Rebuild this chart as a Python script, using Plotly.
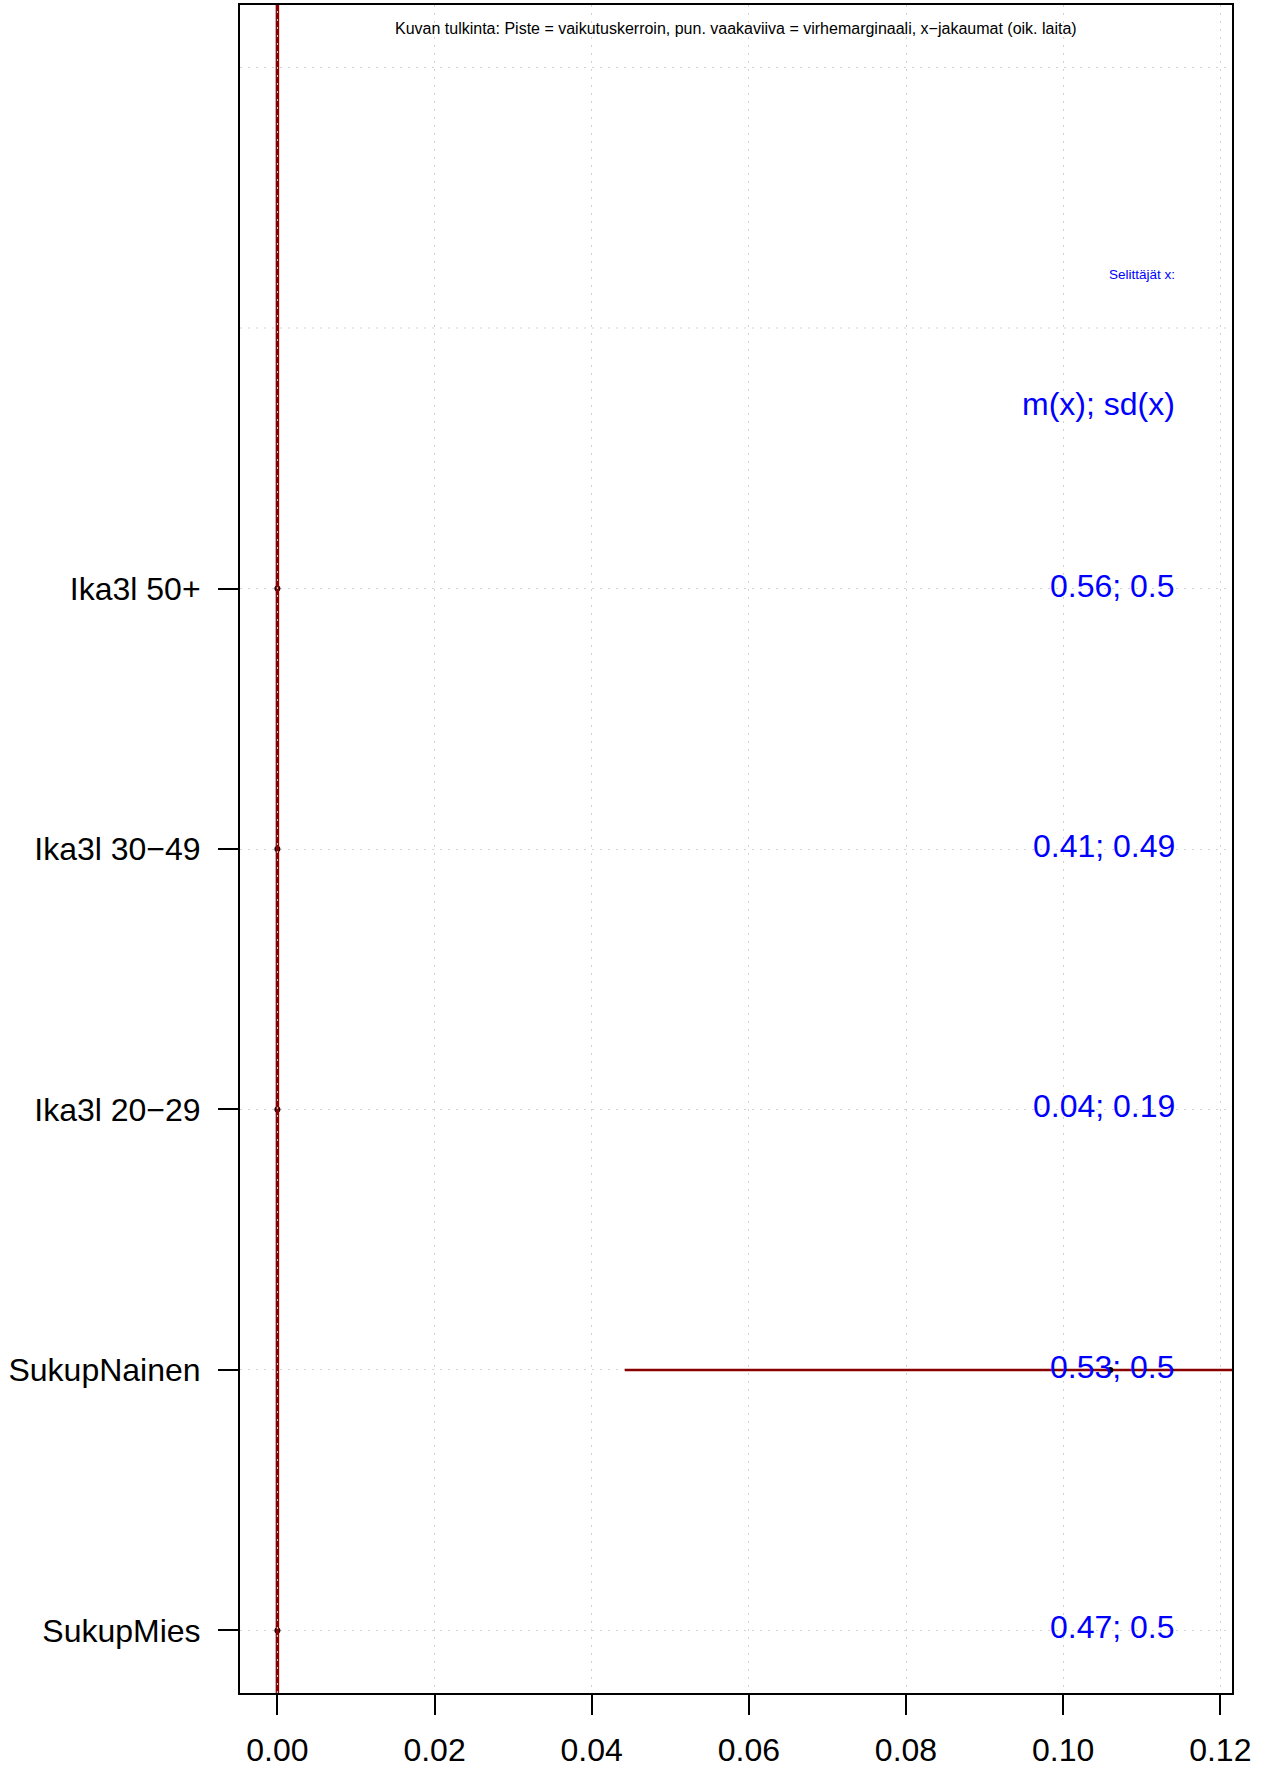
import plotly.graph_objects as go

# ---- data ----
categories = ["SukupMies", "SukupNainen", "Ika3l 20\u221229", "Ika3l 30\u221249", "Ika3l 50+"]
coef = [0.0, 0.106, 0.0, 0.0, 0.0]
ci_low = [0.0, 0.0442, 0.0, 0.0, 0.0]
ci_high = [0.0, 0.168, 0.0, 0.0, 0.0]
x_stats = ["0.47; 0.5", "0.53; 0.5", "0.04; 0.19", "0.41; 0.49", "0.56; 0.5"]
x_tickvals = [0.00, 0.02, 0.04, 0.06, 0.08, 0.10, 0.12]
x_ticktext = ["0.00", "0.02", "0.04", "0.06", "0.08", "0.10", "0.12"]

ypos = list(range(1, len(categories) + 1))
FONT = "Liberation Sans, Arial, Helvetica, sans-serif"
DARKRED = "#8B0000"
GRID = "#D3D3D3"
XR = [-0.00476, 0.12149]
YR = [0.76, 7.24]

fig = go.Figure()

# error bars (horizontal)
ex, ey = [], []
for lo, hi, y in zip(ci_low, ci_high, ypos):
    ex += [lo, hi, None]
    ey += [y, y, None]
fig.add_trace(go.Scatter(x=ex, y=ey, mode="lines",
                         line=dict(color=DARKRED, width=2.5),
                         hoverinfo="skip", showlegend=False))
# points
fig.add_trace(go.Scatter(x=coef, y=ypos, mode="markers",
                         marker=dict(color="black", size=6),
                         showlegend=False))

shapes = []
# vertical reference line at 0
shapes.append(dict(type="line", xref="x", yref="paper", x0=0, x1=0, y0=0, y1=1,
                   line=dict(color=DARKRED, width=3.5), layer="above"))
shapes.append(dict(type="line", xref="x", yref="paper", x0=0, x1=0, y0=0, y1=1,
                   line=dict(color=GRID, width=1, dash="2px,6px"), layer="above"))
# extra horizontal grid lines at 6 and 7
for yv in (6, 7):
    shapes.append(dict(type="line", xref="paper", yref="y", x0=0, x1=1, y0=yv, y1=yv,
                       line=dict(color=GRID, width=1, dash="2px,6px"), layer="below"))
fig.update_layout(shapes=shapes)

annotations = []
for s, y in zip(x_stats, ypos):
    annotations.append(dict(x=0.11443, y=y, xref="x", yref="y", text=s, showarrow=False,
                            xanchor="right", yanchor="middle", yshift=3,
                            font=dict(family=FONT, size=32, color="blue")))
annotations.append(dict(x=0.11443, y=5.708, xref="x", yref="y", text="m(x); sd(x)",
                        showarrow=False, xanchor="right", yanchor="middle",
                        font=dict(family=FONT, size=32, color="blue")))
annotations.append(dict(x=0.11443, y=6.205, xref="x", yref="y", text="Selitt\u00e4j\u00e4t x:",
                        showarrow=False, xanchor="right", yanchor="middle",
                        font=dict(family=FONT, size=13.5, color="blue")))
annotations.append(dict(x=(XR[0] + XR[1]) / 2, y=7.148, xref="x", yref="y",
                        text="Kuvan tulkinta: Piste = vaikutuskerroin, pun. vaakaviiva = virhemarginaali, x\u2212jakaumat (oik. laita)",
                        showarrow=False, xanchor="center", yanchor="middle",
                        font=dict(family=FONT, size=16, color="black")))
fig.update_layout(annotations=annotations)

fig.update_xaxes(range=XR, tickvals=x_tickvals, ticktext=x_ticktext,
                 showgrid=True, gridcolor=GRID, gridwidth=1, griddash="2px,6px",
                 zeroline=False, showline=True, mirror=True, linecolor="black", linewidth=2,
                 ticks="outside", ticklen=20, tickwidth=2, tickcolor="black", automargin=False,
                 tickfont=dict(family=FONT, size=32, color="black"), ticklabelstandoff=8)
fig.update_yaxes(range=YR, tickvals=ypos, ticktext=categories,
                 showgrid=True, gridcolor=GRID, gridwidth=1, griddash="2px,6px",
                 zeroline=False, showline=True, mirror=True, linecolor="black", linewidth=2,
                 ticks="outside", ticklen=20, tickwidth=2, tickcolor="black", automargin=False,
                 tickfont=dict(family=FONT, size=32, color="black"), ticklabelstandoff=11)

fig.update_layout(width=1269, height=1767,
                  margin=dict(l=240, r=37, t=5, b=74),
                  plot_bgcolor="white", paper_bgcolor="white",
                  showlegend=False)

fig.write_html("out.html", config={"displayModeBar": False},
               post_script="document.body.style.margin='0';")
